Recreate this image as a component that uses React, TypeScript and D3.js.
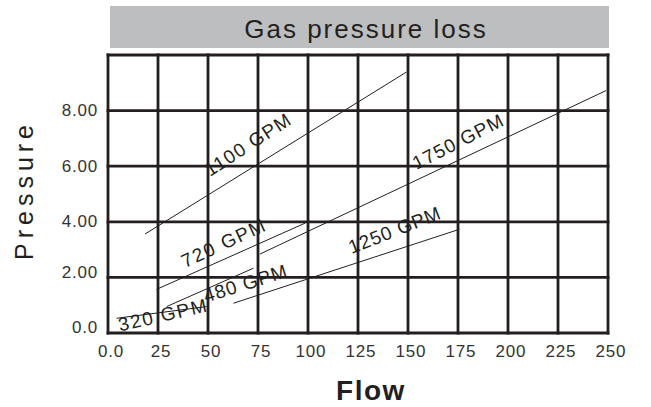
import { useEffect, useRef } from 'react'
import * as d3 from 'd3'

// flow ticks (x) and pressure ticks (y)
const flowTicks = [0, 25, 50, 75, 100, 125, 150, 175, 200, 225, 250]
const flowTickLabels = ['0.0', '25', '50', '75', '100', '125', '150', '175', '200', '225', '250']
const pressureTicks = [0, 2, 4, 6, 8, 10]
const pressureTickLabels = ['0.0', '2.00', '4.00', '6.00', '8.00', '']

// one straight segment per pump rate
const series = ['320 GPM', '480 GPM', '720 GPM', '1100 GPM', '1250 GPM', '1750 GPM']
const flowStart = [4.3, 29.3, 24.3, 18.5, 62.7, 76]
const flowEnd = [49.3, 72.7, 98.5, 149.3, 175.7, 249]
const pressureStart = [0.53, 0.95, 1.57, 3.56, 1.07, 2.84]
const pressureEnd = [0.95, 2.33, 3.95, 9.39, 3.73, 8.72]

// where each label starts (data units)
const labelFlow = [6, 49, 38.5, 51, 121.8, 154.3]
const labelPressure = [0.05, 1.09, 2.33, 5.61, 2.84, 5.86]

const labelAngle = [-13, -17.5, -25, -33, -21.5, -27]
const labelLength = [90, 86, 90, 98, 97, 99]

const INK = '#231f20'
const FONT = '"Liberation Sans", Arial, Helvetica, sans-serif'

export default function App() {
  const svgRef = useRef<SVGSVGElement>(null)

  useEffect(() => {
    if (!svgRef.current) return
    const svg = d3.select(svgRef.current)
    svg.selectAll('*').remove()

    const x = d3.scaleLinear().domain([0, 250]).range([108, 608])
    const y = d3.scaleLinear().domain([0, 10]).range([333, 55])

    // title band
    svg.append('rect')
      .attr('x', 110).attr('y', 6).attr('width', 499).attr('height', 42)
      .attr('fill', '#bcbec0')
    svg.append('text')
      .attr('x', 366).attr('y', 38)
      .attr('text-anchor', 'middle')
      .attr('font-family', FONT).attr('font-size', 26)
      .attr('letter-spacing', 2)
      .attr('fill', INK)
      .text('Gas pressure loss')

    // grid
    const grid = svg.append('g').attr('stroke', INK).attr('stroke-width', 2.8)
    grid.selectAll('line.v').data(flowTicks).join('line')
      .attr('class', 'v')
      .attr('x1', (d) => x(d)).attr('x2', (d) => x(d))
      .attr('y1', y(10) - 1.4).attr('y2', y(0) + 1.4)
    grid.selectAll('line.h').data(pressureTicks).join('line')
      .attr('class', 'h')
      .attr('x1', x(0) - 1.4).attr('x2', x(250) + 1.4)
      .attr('y1', (d) => y(d)).attr('y2', (d) => y(d))

    // tick labels
    svg.append('g').selectAll('text').data(flowTicks).join('text')
      .attr('x', (d) => x(d) + 3).attr('y', y(0) + 24)
      .attr('text-anchor', 'middle')
      .attr('font-family', FONT).attr('font-size', 17).attr('letter-spacing', 0.8)
      .attr('fill', '#333')
      .text((_, i) => flowTickLabels[i])
    svg.append('g').selectAll('text').data(pressureTicks).join('text')
      .attr('x', 98).attr('y', (d) => y(d) + (d === 0 ? -6 : d === 2 ? -5 : 0))
      .attr('text-anchor', 'end').attr('dominant-baseline', 'central')
      .attr('font-family', FONT).attr('font-size', 17).attr('letter-spacing', 0.8)
      .attr('fill', '#333')
      .text((_, i) => pressureTickLabels[i])

    // pump rate lines
    const idx = d3.range(series.length)
    svg.append('g').selectAll('line').data(idx).join('line')
      .attr('x1', (i) => x(flowStart[i])).attr('y1', (i) => y(pressureStart[i]))
      .attr('x2', (i) => x(flowEnd[i])).attr('y2', (i) => y(pressureEnd[i]))
      .attr('stroke', INK).attr('stroke-width', 1)

    svg.append('g').selectAll('text').data(idx).join('text')
      .attr('transform', (i) => `translate(${x(labelFlow[i])},${y(labelPressure[i])}) rotate(${labelAngle[i]})`)
      .attr('font-family', FONT).attr('font-size', 19)
      .attr('textLength', (i) => labelLength[i]).attr('lengthAdjust', 'spacing')
      .attr('fill', INK)
      .text((i) => series[i])

    // axis titles
    svg.append('text')
      .attr('transform', 'translate(33,190) rotate(-90)')
      .attr('text-anchor', 'middle')
      .attr('font-family', FONT).attr('font-size', 25).attr('letter-spacing', 5)
      .attr('fill', INK)
      .text('Pressure')
    svg.append('text')
      .attr('x', 371).attr('y', 400)
      .attr('text-anchor', 'middle')
      .attr('font-family', FONT).attr('font-size', 28).attr('font-weight', 'bold')
      .attr('letter-spacing', 1.5)
      .attr('fill', INK)
      .text('Flow')
  }, [])

  return (
    <div style={{ position: 'fixed', left: 0, top: 0, background: '#fff' }}>
      <svg ref={svgRef} width={651} height={407} style={{ display: 'block' }} />
    </div>
  )
}
